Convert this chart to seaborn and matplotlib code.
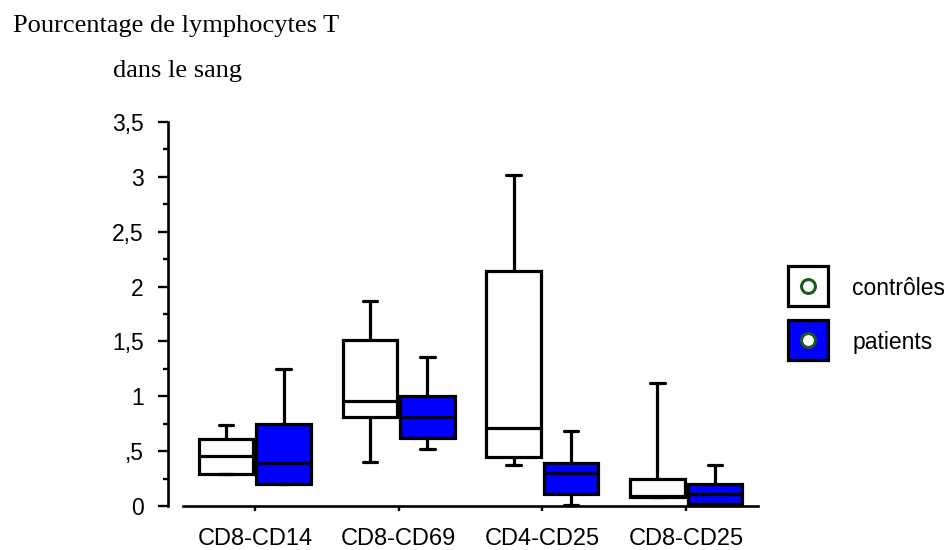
import numpy as np
import pandas as pd
import matplotlib
matplotlib.use("Agg")
import matplotlib.pyplot as plt
import seaborn as sns
from matplotlib.lines import Line2D
from matplotlib.ticker import FixedLocator, FixedFormatter, MultipleLocator

categories = ["CD8-CD14", "CD8-CD69", "CD4-CD25", "CD8-CD25"]
groups = ["contrôles", "patients"]

# five-number summaries
controles_low = [0.29, 0.40, 0.37, 0.08]
controles_q1 = [0.29, 0.81, 0.45, 0.08]
controles_med = [0.46, 0.96, 0.71, 0.09]
controles_q3 = [0.61, 1.51, 2.14, 0.25]
controles_high = [0.74, 1.87, 3.02, 1.12]

patients_low = [0.20, 0.52, 0.01, 0.02]
patients_q1 = [0.20, 0.62, 0.11, 0.02]
patients_med = [0.39, 0.81, 0.30, 0.11]
patients_q3 = [0.75, 1.00, 0.39, 0.20]
patients_high = [1.25, 1.36, 0.68, 0.37]

ytick_values = [0, 0.5, 1, 1.5, 2, 2.5, 3, 3.5]
ytick_labels = ["0", ",5", "1", "1,5", "2", "2,5", "3", "3,5"]

title_line1 = "Pourcentage de lymphocytes T"
title_line2 = "dans le sang"

rows = []
summ = {
    "contrôles": [controles_low, controles_q1, controles_med, controles_q3, controles_high],
    "patients": [patients_low, patients_q1, patients_med, patients_q3, patients_high],
}
for g in groups:
    s = summ[g]
    for i, c in enumerate(categories):
        for arr in s:
            rows.append({"cat": c, "group": g, "val": arr[i]})
df = pd.DataFrame(rows)

sns.set_style("ticks")
plt.rcParams["font.family"] = ["Liberation Sans", "DejaVu Sans"]
plt.rcParams.update({"text.color": "black", "axes.edgecolor": "black",
                     "xtick.color": "black", "ytick.color": "black",
                     "axes.labelcolor": "black"})

fig = plt.figure(figsize=(9.53, 5.5), dpi=100)
ax = fig.add_axes([183 / 953, 1 - 506 / 550, (758 - 183) / 953, (506 - 122) / 550])

lw = 2.3
palette = {"contrôles": "white", "patients": "#0000ff"}
sns.boxplot(
    data=df, x="cat", y="val", hue="group", order=categories, hue_order=groups,
    palette=palette,
    whis=(0, 100), width=0.8, gap=0.05, linecolor="black", linewidth=lw,
    capwidths=0.1, legend=False, ax=ax, saturation=1,
)

ax.set_xlim(-0.5, 3.5)
ax.set_ylim(0, 3.5)
ax.set_xlabel("")
ax.set_ylabel("")
for sp in ["top", "right"]:
    ax.spines[sp].set_visible(False)
ax.spines["left"].set_position(("outward", 11))
ax.spines["left"].set_linewidth(1.9)
ax.spines["bottom"].set_linewidth(1.9)

ax.yaxis.set_major_locator(FixedLocator(ytick_values))
ax.yaxis.set_major_formatter(FixedFormatter(ytick_labels))
ax.yaxis.set_minor_locator(MultipleLocator(0.25))
ax.tick_params(axis="y", which="major", length=7.2, width=1.7, labelsize=16.5, pad=10,
               color="black", labelcolor="black")
ax.tick_params(axis="y", which="minor", length=3.6, width=1.7, color="black")
ax.tick_params(axis="x", which="major", length=3.6, width=1.7, labelsize=17, pad=12,
               color="black", labelcolor="black")

circle_kw = dict(marker="o", markersize=10, markerfacecolor="white",
                 markeredgecolor="#1a5c1a", markeredgewidth=2.2, linestyle="")
handles = []
for g in groups:
    sq = Line2D([], [], marker="s", markersize=29, markerfacecolor=palette[g],
                markeredgecolor="black", markeredgewidth=2.3, linestyle="")
    handles.append((sq, Line2D([], [], **circle_kw)))
fig.legend(handles, groups, loc="upper left", bbox_to_anchor=(778 / 953, 1 - 268 / 550),
           frameon=False, fontsize=16.5, handlelength=1.79, handleheight=1.0,
           handletextpad=1.05, labelspacing=1.33, borderaxespad=0, numpoints=1,
           labelcolor="black")

fig.text(13 / 953, 1 - 32 / 550, title_line1, family=["Liberation Serif"], fontsize=19,
         va="baseline", ha="left", color="black")
fig.text(113 / 953, 1 - 77 / 550, title_line2, family=["Liberation Serif"], fontsize=19,
         va="baseline", ha="left", color="black")

fig.savefig("out.png", dpi=100)
